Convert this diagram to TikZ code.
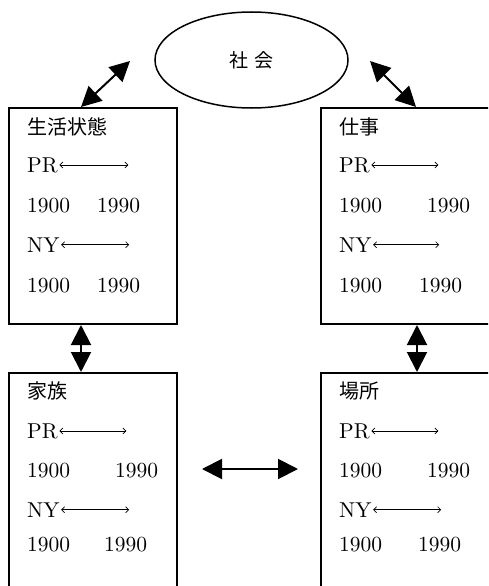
\documentclass[tikz,border=0pt]{standalone}
\usepackage{fontspec}
\newfontfamily\jp{Noto Sans CJK JP}
\newfontfamily\lmten{lmroman10-regular}[Extension=.otf]
\usetikzlibrary{arrows.meta,shapes.geometric}
\begin{document}
\begin{tikzpicture}[x=1pt,y=-1pt,
  box/.style={draw, line width=2pt, inner sep=0pt},
  txt/.style={anchor=base west, inner sep=0pt, font=\lmten\fontsize{21.5}{25}\selectfont},
  jtxt/.style={anchor=base west, inner sep=0pt, font=\jp\fontsize{20}{24}\selectfont},
  small arrow/.style={line width=0.7pt, {Straight Barb[length=3pt,width=6pt]}-{Straight Barb[length=3pt,width=6pt]}},
  big arrow/.style={line width=2pt, {Triangle[length=20pt,width=20pt]}-{Triangle[length=20pt,width=20pt]}}]
\useasboundingbox (0,0) rectangle (488,586);
\clip (0,0) rectangle (488,586);

% society ellipse
\node[draw, ellipse, line width=1.5pt, minimum width=193pt, minimum height=96pt, inner sep=0pt,
      font=\jp\fontsize{19}{22}\selectfont] (soc) at (251.5,60) {社\hspace{6pt}会};

% boxes
\node[box, minimum width=168pt, minimum height=216pt] (lt) at (93,216) {};
\node[box, minimum width=179pt, minimum height=216pt] (rt) at (410.5,216) {};
\node[box, minimum width=168pt, minimum height=247pt] (lb) at (93,496.5) {};
\node[box, minimum width=179pt, minimum height=247pt] (rb) at (410.5,496.5) {};

% box texts: left top
\node[jtxt] (ltt) at (27,134) {生活状態};
\node[txt] (ltp) at (27,172) {PR};
\node[txt] (lta) at (27,212) {1900};
\node[txt] (ltb) at (97,212) {1990};
\node[txt] (ltn) at (27,252) {NY};
\node[txt] (ltc) at (27,292) {1900};
\node[txt] (ltd) at (97,292) {1990};
\draw[small arrow] ([xshift=1.5pt]ltp.east) -- ++(69,0);
\draw[small arrow] ([xshift=1.5pt]ltn.east) -- ++(68,0);

% right top
\node[jtxt] (rtt) at (339,134) {仕事};
\node[txt] (rtp) at (339,172) {PR};
\node[txt] (rta) at (339,212) {1900};
\node[txt] (rtb) at (427,212) {1990};
\node[txt] (rtn) at (339,252) {NY};
\node[txt] (rtc) at (339,292) {1900};
\node[txt] (rtd) at (419,292) {1990};
\draw[small arrow] ([xshift=1.5pt]rtp.east) -- ++(67,0);
\draw[small arrow] ([xshift=1.5pt]rtn.east) -- ++(66,0);

% left bottom
\node[jtxt] (lbt) at (27,398) {家族};
\node[txt] (lbp) at (27,438) {PR};
\node[txt] (lba) at (27,477) {1900};
\node[txt] (lbb) at (115,477) {1990};
\node[txt] (lbn) at (27,517) {NY};
\node[txt] (lbc) at (27,551) {1900};
\node[txt] (lbd) at (104,551) {1990};
\draw[small arrow] ([xshift=1.5pt]lbp.east) -- ++(67,0);
\draw[small arrow] ([xshift=1.5pt]lbn.east) -- ++(68,0);

% right bottom
\node[jtxt] (rbt) at (339,398) {場所};
\node[txt] (rbp) at (339,438) {PR};
\node[txt] (rba) at (339,477) {1900};
\node[txt] (rbb) at (427,477) {1990};
\node[txt] (rbn) at (339,517) {NY};
\node[txt] (rbc) at (339,551) {1900};
\node[txt] (rbd) at (418,551) {1990};
\draw[small arrow] ([xshift=1.5pt]rbp.east) -- ++(67,0);
\draw[small arrow] ([xshift=1.5pt]rbn.east) -- ++(68,0);

% big arrows
\coordinate (e1) at (130,61);
\coordinate (e2) at (370,61);
\coordinate (h1) at (202,469);
\coordinate (h2) at (298,469);
\draw[big arrow] ([xshift=73pt]lt.north west) -- (e1);
\draw[big arrow] ([xshift=96pt]rt.north west) -- (e2);
\draw[big arrow] ([xshift=73pt]lt.south west) -- ([xshift=73pt]lb.north west);
\draw[big arrow] ([xshift=97pt]rt.south west) -- ([xshift=97pt]rb.north west);
\draw[big arrow] (h1) -- (h2);
\end{tikzpicture}
\end{document}
